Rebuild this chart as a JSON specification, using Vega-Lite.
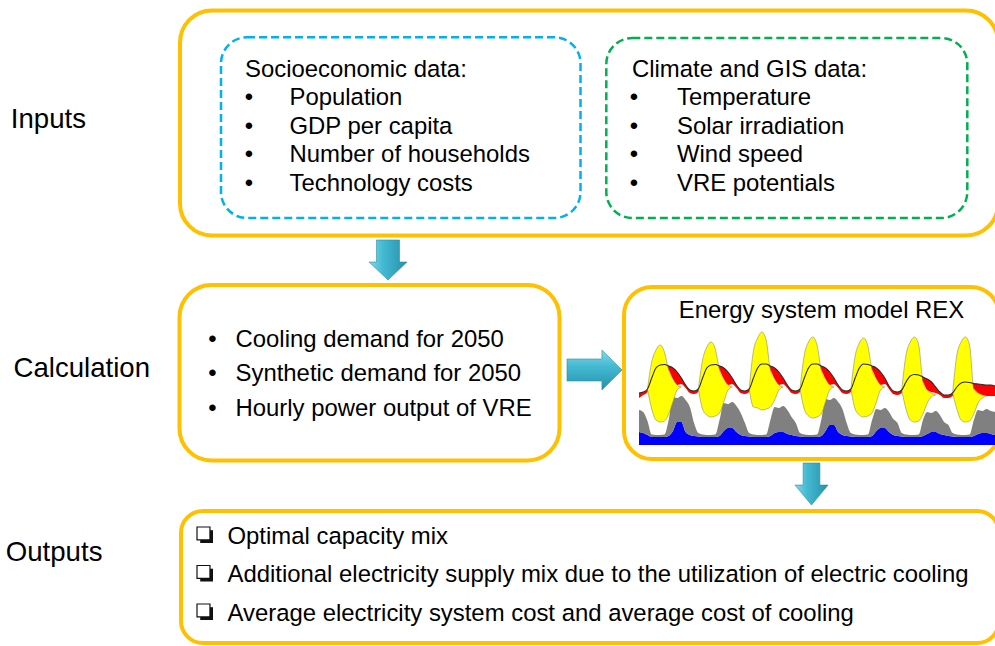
{
  "$schema": "https://vega.github.io/schema/vega-lite/v6.json",
  "width": 995,
  "height": 646,
  "padding": 0,
  "autosize": "none",
  "background": "white",
  "config": {"view": {"stroke": null}, "text": {"font": "Liberation Sans", "color": "#000000"}},
  "layer": [
    {
      "encoding": {
        "x": {"field": "x", "type": "quantitative", "axis": null, "scale": {"domain": [0, 995], "range": [0, 995], "nice": false, "zero": false}},
        "y": {"field": "y", "type": "quantitative", "axis": null, "scale": {"domain": [0, 646], "range": [0, 646], "nice": false, "zero": false}}
      },
      "layer": [
        {
          "data": {"values": [{"x": 180, "x2": 998, "y": 10.5, "y2": 235.5}, {"x": 179.5, "x2": 559.5, "y": 285, "y2": 460.5}]},
          "mark": {"type": "rect", "cornerRadius": 32, "fill": "white", "stroke": "#FFC000", "strokeWidth": 4},
          "encoding": {"x2": {"field": "x2"}, "y2": {"field": "y2"}}
        },
        {
          "data": {"values": [{"x": 624, "x2": 999, "y": 287, "y2": 459}]},
          "mark": {"type": "rect", "cornerRadius": 28, "fill": "white", "stroke": "#FFC000", "strokeWidth": 4},
          "encoding": {"x2": {"field": "x2"}, "y2": {"field": "y2"}}
        },
        {
          "data": {"values": [{"x": 181, "x2": 999, "y": 511, "y2": 643}]},
          "mark": {"type": "rect", "cornerRadius": 22, "fill": "white", "stroke": "#FFC000", "strokeWidth": 4},
          "encoding": {"x2": {"field": "x2"}, "y2": {"field": "y2"}}
        },
        {
          "data": {"values": [{"x": 221, "x2": 580.5, "y": 37.3, "y2": 218}]},
          "mark": {"type": "rect", "cornerRadius": 26, "filled": false, "stroke": "#00B0F0", "strokeWidth": 2.5, "strokeDash": [8, 4]},
          "encoding": {"x2": {"field": "x2"}, "y2": {"field": "y2"}}
        },
        {
          "data": {"values": [{"x": 606.3, "x2": 967.3, "y": 38, "y2": 218}]},
          "mark": {"type": "rect", "cornerRadius": 26, "filled": false, "stroke": "#00B050", "strokeWidth": 2.5, "strokeDash": [8, 4]},
          "encoding": {"x2": {"field": "x2"}, "y2": {"field": "y2"}}
        },
        {
          "data": {"values": [
            {"x": 245, "y": 76.7, "text": "Socioeconomic data:"},
            {"x": 289.5, "y": 105, "text": "Population"},
            {"x": 289.5, "y": 133.5, "text": "GDP per capita"},
            {"x": 289.5, "y": 162.2, "text": "Number of households"},
            {"x": 289.5, "y": 190.5, "text": "Technology costs"},
            {"x": 632, "y": 76.7, "text": "Climate and GIS data:"},
            {"x": 677, "y": 105, "text": "Temperature"},
            {"x": 677, "y": 133.5, "text": "Solar irradiation"},
            {"x": 677, "y": 162.2, "text": "Wind speed"},
            {"x": 677, "y": 190.5, "text": "VRE potentials"},
            {"x": 235.5, "y": 346.7, "text": "Cooling demand for 2050"},
            {"x": 235.5, "y": 381, "text": "Synthetic demand for 2050"},
            {"x": 235.5, "y": 416, "text": "Hourly power output of VRE"},
            {"x": 227.5, "y": 543.5, "text": "Optimal capacity mix"},
            {"x": 227.5, "y": 582, "text": "Additional electricity supply mix due to the utilization of electric cooling"},
            {"x": 227.5, "y": 620.5, "text": "Average electricity system cost and average cost of cooling"}
          ]},
          "mark": {"type": "text", "fontSize": 23.9, "align": "left", "baseline": "alphabetic"},
          "encoding": {"text": {"field": "text"}}
        },
        {
          "data": {"values": [
            {"x": 249, "y": 105}, {"x": 249, "y": 133.5}, {"x": 249, "y": 162.2}, {"x": 249, "y": 190.5},
            {"x": 634, "y": 105}, {"x": 634, "y": 133.5}, {"x": 634, "y": 162.2}, {"x": 634, "y": 190.5},
            {"x": 212.5, "y": 346.7}, {"x": 212.5, "y": 381}, {"x": 212.5, "y": 416}
          ]},
          "mark": {"type": "text", "fontSize": 23.9, "align": "center", "baseline": "alphabetic", "text": "•"},
          "encoding": {}
        },
        {
          "data": {"values": [{"x": 821.5, "y": 317.7, "text": "Energy system model REX"}]},
          "mark": {"type": "text", "fontSize": 23.9, "align": "center", "baseline": "alphabetic"},
          "encoding": {"text": {"field": "text"}}
        },
        {
          "data": {"values": [
            {"x": 10.8, "y": 127.7, "text": "Inputs"},
            {"x": 13.5, "y": 376.7, "text": "Calculation"},
            {"x": 5.8, "y": 560.7, "text": "Outputs"}
          ]},
          "mark": {"type": "text", "fontSize": 27.6, "align": "left", "baseline": "alphabetic"},
          "encoding": {"text": {"field": "text"}}
        },
        {
          "data": {"values": [{"x": 205, "y": 535}, {"x": 205, "y": 573.5}, {"x": 205, "y": 612}]},
          "mark": {"type": "point", "filled": true, "shape": "M-0.6,-0.6L1,-0.6L1,1L-0.6,1Z", "size": 256, "fill": "#111111", "opacity": 1, "strokeWidth": 0}
        },
        {
          "data": {"values": [{"x": 205, "y": 535}, {"x": 205, "y": 573.5}, {"x": 205, "y": 612}]},
          "mark": {"type": "point", "filled": true, "shape": "M-1,-1L0.62,-1L0.62,0.62L-1,0.62Z", "size": 256, "fill": "white", "stroke": "#111111", "strokeWidth": 1.2, "opacity": 1}
        },
        {
          "data": {"values": [{"x": 388, "y": 260}]},
          "mark": {"type": "point", "filled": true, "opacity": 1, "size": 1600,
            "shape": "M-0.575,-1L0.575,-1L0.575,0.1L0.95,0.1L0,1L-0.95,0.1L-0.575,0.1Z",
            "fill": {"gradient": "linear", "x1": 0, "y1": 0, "x2": 1, "y2": 0, "stops": [{"offset": 0, "color": "#86d8ea"}, {"offset": 0.35, "color": "#44bbd3"}, {"offset": 1, "color": "#2790aa"}]},
            "stroke": "#2a8ea6", "strokeWidth": 0.6}
        },
        {
          "data": {"values": [{"x": 811.5, "y": 484}]},
          "mark": {"type": "point", "filled": true, "opacity": 1, "size": 1764,
            "shape": "M-0.4,-1L0.4,-1L0.4,0.05L0.79,0.05L0,1L-0.79,0.05L-0.4,0.05Z",
            "fill": {"gradient": "linear", "x1": 0, "y1": 0, "x2": 1, "y2": 0, "stops": [{"offset": 0, "color": "#86d8ea"}, {"offset": 0.35, "color": "#44bbd3"}, {"offset": 1, "color": "#2790aa"}]},
            "stroke": "#2a8ea6", "strokeWidth": 0.6}
        },
        {
          "data": {"values": [{"x": 594.5, "y": 370}]},
          "mark": {"type": "point", "filled": true, "opacity": 1, "size": 3025,
            "shape": "M-1,-0.4L0.27,-0.4L0.27,-0.727L1,0L0.27,0.727L0.27,0.4L-1,0.4Z",
            "fill": {"gradient": "linear", "x1": 0, "y1": 0, "x2": 0, "y2": 1, "stops": [{"offset": 0, "color": "#86d8ea"}, {"offset": 0.4, "color": "#44bbd3"}, {"offset": 1, "color": "#2790aa"}]},
            "stroke": "#2a8ea6", "strokeWidth": 0.6}
        }
      ]
    },
    {
      "data": {"values": [
        {"t": 0, "b": 13, "g": 35, "yl": null, "yh": null, "rl": 47, "dm": 52},
        {"t": 2, "b": 12, "g": 33, "yl": null, "yh": null, "rl": 50, "dm": 53},
        {"t": 4, "b": 10, "g": 24, "yl": 56, "yh": 56, "rl": 53, "dm": 56},
        {"t": 6, "b": 8, "g": 10.5, "yl": 36, "yh": 83, "rl": 64, "dm": 67},
        {"t": 8, "b": 8, "g": 10, "yl": 25, "yh": 95, "rl": 74, "dm": 77},
        {"t": 10, "b": 8, "g": 10, "yl": 23, "yh": 100, "rl": 77, "dm": 80},
        {"t": 12, "b": 8, "g": 10.5, "yl": 24, "yh": 93, "rl": 77.5, "dm": 80.5},
        {"t": 14, "b": 9, "g": 25, "yl": 31, "yh": 75, "rl": 75, "dm": 79},
        {"t": 16, "b": 14, "g": 48, "yl": 43, "yh": 66, "rl": 66, "dm": 77},
        {"t": 18, "b": 23, "g": 47, "yl": 55, "yh": 60, "rl": 60, "dm": 73},
        {"t": 20, "b": 23, "g": 49, "yl": 58, "yh": 58, "rl": 61, "dm": 67},
        {"t": 22, "b": 13, "g": 45, "yl": null, "yh": null, "rl": 57, "dm": 60},
        {"t": 24, "b": 10, "g": 38, "yl": null, "yh": null, "rl": 52, "dm": 55},
        {"t": 26, "b": 9, "g": 22, "yl": null, "yh": null, "rl": 51, "dm": 54},
        {"t": 28, "b": 8.5, "g": 12, "yl": 56, "yh": 56, "rl": 53, "dm": 56},
        {"t": 30, "b": 8, "g": 10.5, "yl": 36, "yh": 85, "rl": 64, "dm": 67},
        {"t": 32, "b": 8, "g": 10, "yl": 30, "yh": 98, "rl": 74, "dm": 77},
        {"t": 34, "b": 8, "g": 10, "yl": 28, "yh": 103, "rl": 77, "dm": 80},
        {"t": 36, "b": 8, "g": 10.5, "yl": 29, "yh": 96, "rl": 77.5, "dm": 80.5},
        {"t": 38, "b": 9, "g": 25, "yl": 32, "yh": 75, "rl": 75, "dm": 79},
        {"t": 40, "b": 14, "g": 42, "yl": 43, "yh": 66, "rl": 66, "dm": 77},
        {"t": 42, "b": 17, "g": 41, "yl": 55, "yh": 60, "rl": 60, "dm": 73},
        {"t": 44, "b": 17, "g": 43, "yl": 58, "yh": 58, "rl": 61, "dm": 67},
        {"t": 46, "b": 13, "g": 39, "yl": null, "yh": null, "rl": 57, "dm": 60},
        {"t": 48, "b": 10, "g": 32, "yl": null, "yh": null, "rl": 52, "dm": 55},
        {"t": 50, "b": 9, "g": 22, "yl": null, "yh": null, "rl": 51, "dm": 54},
        {"t": 52, "b": 8.5, "g": 12, "yl": 56, "yh": 56, "rl": 53, "dm": 56},
        {"t": 54, "b": 8, "g": 10.5, "yl": 38, "yh": 94, "rl": 64, "dm": 67},
        {"t": 56, "b": 8, "g": 10, "yl": 37, "yh": 107, "rl": 74, "dm": 77},
        {"t": 58, "b": 8, "g": 10, "yl": 35, "yh": 113, "rl": 78, "dm": 81},
        {"t": 60, "b": 8, "g": 10.5, "yl": 36, "yh": 105, "rl": 78, "dm": 81},
        {"t": 62, "b": 9, "g": 25, "yl": 38, "yh": 75, "rl": 75, "dm": 79},
        {"t": 64, "b": 12, "g": 38, "yl": 45, "yh": 66, "rl": 66, "dm": 77},
        {"t": 66, "b": 13, "g": 37, "yl": 55, "yh": 60, "rl": 60, "dm": 73},
        {"t": 68, "b": 13, "g": 39, "yl": 58, "yh": 58, "rl": 61, "dm": 67},
        {"t": 70, "b": 11, "g": 35, "yl": null, "yh": null, "rl": 57, "dm": 60},
        {"t": 72, "b": 10, "g": 28, "yl": null, "yh": null, "rl": 52, "dm": 55},
        {"t": 74, "b": 9, "g": 22, "yl": null, "yh": null, "rl": 51, "dm": 54},
        {"t": 76, "b": 8.5, "g": 12, "yl": 56, "yh": 56, "rl": 53, "dm": 56},
        {"t": 78, "b": 8, "g": 10.5, "yl": 36, "yh": 90, "rl": 64, "dm": 67},
        {"t": 80, "b": 8, "g": 10, "yl": 29, "yh": 103, "rl": 74, "dm": 77},
        {"t": 82, "b": 8, "g": 10, "yl": 27, "yh": 108, "rl": 78, "dm": 81},
        {"t": 84, "b": 8, "g": 10.5, "yl": 28, "yh": 100, "rl": 78, "dm": 81},
        {"t": 86, "b": 9, "g": 25, "yl": 31, "yh": 75, "rl": 75, "dm": 79},
        {"t": 88, "b": 14, "g": 46, "yl": 43, "yh": 66, "rl": 66, "dm": 77},
        {"t": 90, "b": 20, "g": 45, "yl": 55, "yh": 60, "rl": 60, "dm": 73},
        {"t": 92, "b": 20, "g": 47, "yl": 58, "yh": 58, "rl": 61, "dm": 67},
        {"t": 94, "b": 13, "g": 43, "yl": null, "yh": null, "rl": 57, "dm": 60},
        {"t": 96, "b": 10, "g": 36, "yl": null, "yh": null, "rl": 52, "dm": 55},
        {"t": 98, "b": 9, "g": 22, "yl": null, "yh": null, "rl": 51, "dm": 54},
        {"t": 100, "b": 8.5, "g": 12, "yl": 56, "yh": 56, "rl": 53, "dm": 56},
        {"t": 102, "b": 8, "g": 10.5, "yl": 36, "yh": 89, "rl": 64, "dm": 67},
        {"t": 104, "b": 8, "g": 10, "yl": 30, "yh": 102, "rl": 74, "dm": 77},
        {"t": 106, "b": 8, "g": 10, "yl": 28, "yh": 107, "rl": 78, "dm": 81},
        {"t": 108, "b": 8, "g": 10.5, "yl": 29, "yh": 99, "rl": 77.5, "dm": 80.5},
        {"t": 110, "b": 9, "g": 25, "yl": 32, "yh": 75, "rl": 75, "dm": 79},
        {"t": 112, "b": 14, "g": 36, "yl": 43, "yh": 66, "rl": 66, "dm": 77},
        {"t": 114, "b": 17, "g": 35, "yl": 55, "yh": 60, "rl": 60, "dm": 73},
        {"t": 116, "b": 17, "g": 37, "yl": 58, "yh": 58, "rl": 61, "dm": 67},
        {"t": 118, "b": 13, "g": 33, "yl": null, "yh": null, "rl": 56, "dm": 59},
        {"t": 120, "b": 10, "g": 26, "yl": null, "yh": null, "rl": 51, "dm": 54},
        {"t": 122, "b": 9, "g": 22, "yl": null, "yh": null, "rl": 50, "dm": 53},
        {"t": 124, "b": 8.5, "g": 12, "yl": 55, "yh": 55, "rl": 52, "dm": 55},
        {"t": 126, "b": 8, "g": 10.5, "yl": 36, "yh": 90, "rl": 60, "dm": 63},
        {"t": 128, "b": 8, "g": 10, "yl": 25, "yh": 103, "rl": 66, "dm": 69},
        {"t": 130, "b": 8, "g": 10, "yl": 23, "yh": 108, "rl": 67.5, "dm": 70.5},
        {"t": 132, "b": 8, "g": 10.5, "yl": 24, "yh": 100, "rl": 67, "dm": 70},
        {"t": 134, "b": 9, "g": 25, "yl": 31, "yh": 63, "rl": 63, "dm": 68},
        {"t": 136, "b": 11, "g": 33, "yl": 42, "yh": 55, "rl": 55, "dm": 66},
        {"t": 138, "b": 13, "g": 32, "yl": 48, "yh": 52, "rl": 53, "dm": 63},
        {"t": 140, "b": 13, "g": 34, "yl": 50, "yh": 50, "rl": 52, "dm": 58},
        {"t": 142, "b": 11, "g": 30, "yl": null, "yh": null, "rl": 50, "dm": 53},
        {"t": 144, "b": 10, "g": 23, "yl": null, "yh": null, "rl": 47, "dm": 50},
        {"t": 146, "b": 9, "g": 20, "yl": null, "yh": null, "rl": 47, "dm": 50},
        {"t": 148, "b": 8.5, "g": 12, "yl": 52, "yh": 52, "rl": 49, "dm": 52},
        {"t": 150, "b": 8, "g": 10.5, "yl": 36, "yh": 90, "rl": 55, "dm": 58},
        {"t": 152, "b": 8, "g": 10, "yl": 25, "yh": 103, "rl": 59, "dm": 62},
        {"t": 154, "b": 8, "g": 10, "yl": 23, "yh": 108, "rl": 60, "dm": 63},
        {"t": 156, "b": 8, "g": 10.5, "yl": 24, "yh": 100, "rl": 59.5, "dm": 62.5},
        {"t": 158, "b": 9, "g": 25, "yl": 31, "yh": 56, "rl": 56, "dm": 61.5},
        {"t": 160, "b": 11, "g": 35, "yl": 42, "yh": 52, "rl": 52, "dm": 61},
        {"t": 162, "b": 12, "g": 34, "yl": 47, "yh": 50, "rl": 50, "dm": 60.5},
        {"t": 164, "b": 12, "g": 36, "yl": 49, "yh": 49, "rl": 49, "dm": 60},
        {"t": 166, "b": 11, "g": 34, "yl": null, "yh": null, "rl": 49, "dm": 60},
        {"t": 168, "b": 10, "g": 33, "yl": null, "yh": null, "rl": 49, "dm": 59}
      ]},
      "encoding": {
        "x": {"field": "t", "type": "quantitative", "axis": null, "scale": {"domain": [0, 168], "range": [639, 995], "nice": false, "zero": false}}
      },
      "layer": [
        {
          "mark": {"type": "area", "interpolate": "monotone", "color": "#0000FF"},
          "encoding": {
            "y": {"field": "b", "type": "quantitative", "axis": null, "scale": {"domain": [0, 115], "range": [445, 330], "nice": false, "zero": false}},
            "y2": {"datum": 0}
          }
        },
        {
          "mark": {"type": "area", "interpolate": "monotone", "color": "#808080"},
          "encoding": {
            "y": {"field": "g", "type": "quantitative", "axis": null, "scale": {"domain": [0, 115], "range": [445, 330], "nice": false, "zero": false}},
            "y2": {"field": "b"}
          }
        },
        {
          "mark": {"type": "area", "interpolate": "monotone", "color": "#FF0000"},
          "encoding": {
            "y": {"field": "dm", "type": "quantitative", "axis": null, "scale": {"domain": [0, 115], "range": [445, 330], "nice": false, "zero": false}},
            "y2": {"field": "rl"}
          }
        },
        {
          "mark": {"type": "area", "interpolate": "monotone", "color": "#FFFF00", "stroke": "#8c8c6a", "strokeWidth": 0.6},
          "encoding": {
            "y": {"field": "yh", "type": "quantitative", "axis": null, "scale": {"domain": [0, 115], "range": [445, 330], "nice": false, "zero": false}},
            "y2": {"field": "yl"}
          }
        },
        {
          "mark": {"type": "line", "interpolate": "monotone", "color": "#2a2a2a", "strokeWidth": 1.1},
          "encoding": {
            "y": {"field": "dm", "type": "quantitative", "axis": null, "scale": {"domain": [0, 115], "range": [445, 330], "nice": false, "zero": false}}
          }
        }
      ]
    }
  ],
  "resolve": {"scale": {"x": "independent", "y": "independent"}}
}
